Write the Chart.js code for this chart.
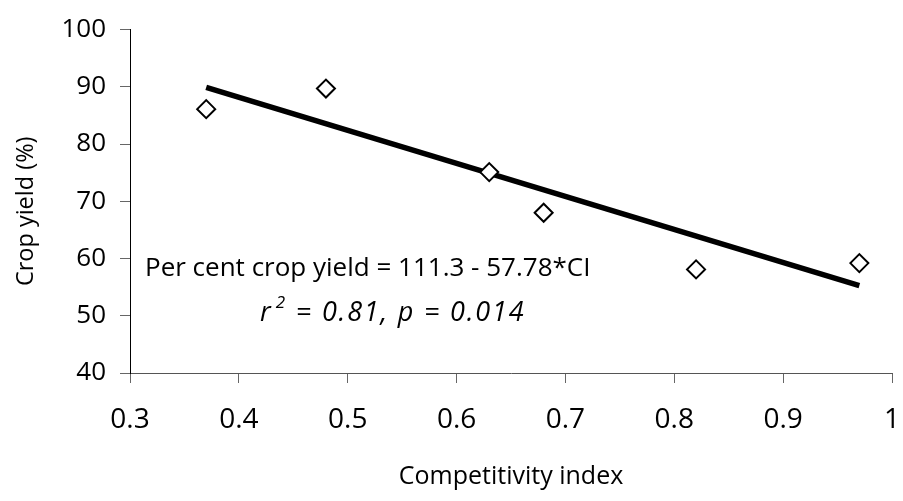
<!DOCTYPE html>
<html>
<head>
<meta charset="utf-8">
<script src="https://cdn.jsdelivr.net/npm/chart.js@4/dist/chart.umd.min.js"></script>
<style>
  html, body { margin: 0; padding: 0; background: #fff; }
  #wrap { width: 903px; height: 501px; position: relative; }
</style>
</head>
<body>
<div id="wrap"><canvas id="c" width="903" height="501"></canvas></div>
<script>
// Observed data (Competitivity index vs crop yield %)
const competitivityIndex = [0.37, 0.48, 0.63, 0.68, 0.82, 0.97];
const cropYield = [86.1, 89.7, 75.1, 68.0, 58.1, 59.2];

// Regression: Per cent crop yield = 111.3 - 57.78*CI
const regIntercept = 111.3;
const regSlope = -57.78;
const regX = [0.37, 0.97];

const xTicks = [0.3, 0.4, 0.5, 0.6, 0.7, 0.8, 0.9, 1];
const yTicks = [40, 50, 60, 70, 80, 90, 100];

const xTitle = 'Competitivity index';
const yTitle = 'Crop yield (%)';
const equationText = "Per cent crop yield = 111.3 - 57.78*CI";
const statsText = [" = 0.81, p = 0.014"];

const FONT = "'Open Sans', 'DejaVu Sans', sans-serif";

const scatterData = competitivityIndex.map((x, i) => ({ x: x, y: cropYield[i] }));
const lineData = regX.map(x => ({ x: x, y: regIntercept + regSlope * x }));

const annotationPlugin = {
  id: 'eqnText',
  afterDatasetsDraw(chart, args, opts) {
    const ctx = chart.ctx;
    const a = chart.chartArea;
    ctx.save();
    ctx.fillStyle = '#000';
    ctx.textBaseline = 'alphabetic';
    ctx.textAlign = 'left';
    ctx.font = `${opts.size}px ${FONT}`;
    ctx.fillText(equationText, a.left + opts.l1x, a.top + opts.l1y);
    // second line: italic r^2 ...
    let x = a.left + opts.l2x;
    const y = a.top + opts.l2y;
    ctx.font = `italic ${opts.size2}px ${FONT}`;
    ctx.fillText('r', x, y);
    x += ctx.measureText('r').width + 5;
    ctx.font = `italic ${Math.round(opts.size2 * 0.62)}px ${FONT}`;
    ctx.fillText('2', x, y - opts.size2 * 0.48);
    x += ctx.measureText('2').width + 2;
    ctx.font = `italic ${opts.size2}px ${FONT}`;
    if ('letterSpacing' in ctx) ctx.letterSpacing = opts.spacing + 'px';
    ctx.fillText(statsText[0], x, y);
    ctx.restore();

    // y-axis title (rotated), slightly below the centre of the axis as in the reference
    ctx.save();
    ctx.fillStyle = '#000';
    ctx.font = `${opts.ySize}px ${FONT}`;
    ctx.textAlign = 'center';
    ctx.textBaseline = 'middle';
    ctx.translate(opts.yTitleX, (a.top + a.bottom) / 2 + opts.yTitleShift);
    ctx.rotate(-Math.PI / 2);
    ctx.fillText(yTitle, 0, 0);
    ctx.restore();
  }
};

new Chart(document.getElementById('c'), {
  type: 'scatter',
  data: {
    datasets: [
      {
        label: 'Observed',
        data: scatterData,
        pointStyle: 'rectRot',
        pointRadius: 9,
        pointHoverRadius: 9,
        pointBackgroundColor: '#fff',
        pointBorderColor: '#000',
        pointBorderWidth: 2,
        showLine: false,
        order: 1
      },
      {
        label: 'Fit',
        data: lineData,
        showLine: true,
        borderColor: '#000',
        borderWidth: 5.5,
        pointRadius: 0,
        borderCapStyle: 'butt',
        order: 2
      }
    ]
  },
  options: {
    responsive: false,
    animation: false,
    events: [],
    layout: { padding: { top: 27, right: 9, left: 0, bottom: 0 } },
    plugins: {
      legend: { display: false },
      tooltip: { enabled: false },
      eqnText: { size: 26, size2: 27, spacing: 1.8, l1x: 15, l1y: 246, l2x: 130, l2y: 291,
                 ySize: 23.5, yTitleX: 26, yTitleShift: 10 }
    },
    scales: {
      x: {
        type: 'linear',
        min: 0.3, max: 1,
        afterBuildTicks: s => { s.ticks = xTicks.map(v => ({ value: v })); },
        afterFit: s => { s.height = 128; s.paddingLeft = 0; s.paddingRight = 0; },
        ticks: {
          color: '#000',
          font: { family: FONT, size: 28 },
          padding: 20,
          maxRotation: 0,
          callback: v => String(+(+v).toFixed(1))
        },
        grid: { display: true, drawOnChartArea: false, drawTicks: true, tickLength: 10, color: '#666' },
        border: { display: true, color: '#555', width: 1 },
        title: {
          display: true, text: xTitle, color: '#000',
          font: { family: FONT, size: 25 },
          padding: { top: 0, bottom: 9 }
        }
      },
      y: {
        type: 'linear',
        min: 40, max: 100,
        afterBuildTicks: s => { s.ticks = yTicks.map(v => ({ value: v })); },
        afterFit: s => { s.width = 130; },
        ticks: {
          color: '#000',
          font: { family: FONT, size: 26 },
          padding: 14
        },
        grid: { display: true, drawOnChartArea: false, drawTicks: true, tickLength: 10, color: '#666' },
        border: { display: true, color: '#000', width: 1 },
        title: { display: false, text: yTitle }
      }
    }
  },
  plugins: [annotationPlugin]
});
</script>
</body>
</html>
